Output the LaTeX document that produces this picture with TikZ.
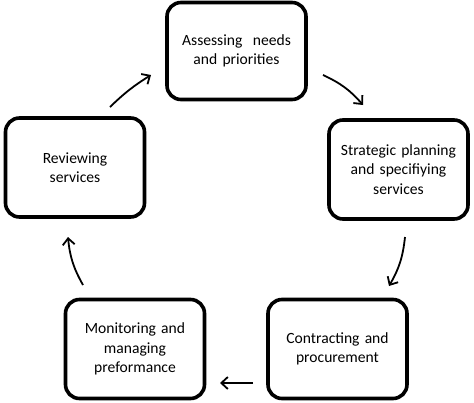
\documentclass[tikz,border=0pt]{standalone}
\usepackage{fontspec}
\setmainfont{Carlito}
\usetikzlibrary{arrows.meta}
\tikzset{
  stagebox/.style={draw=black, line width=3.6pt, rounded corners=14pt, fill=white,
    minimum width=139pt, minimum height=97pt, text width=135pt, align=center,
    inner sep=0pt, text=black, font=\fontsize{15.6}{19.5}\selectfont},
  cyclearrow/.style={line width=1.8pt, -{Straight Barb[length=6.5pt,width=12pt]}}
}
\begin{document}
\begin{tikzpicture}[x=1pt,y=-1pt]
\useasboundingbox (0,0) rectangle (474,402);
\node[stagebox] (assess) at (236.5,51) {Assessing\ \ needs\\and priorities};
\node[stagebox, minimum height=99pt] (plan) at (398.5,169.5) {Strategic planning\\and specifiying\\services};
\node[stagebox, minimum height=99pt] (contract) at (337.5,349) {Contracting and\\procurement};
\node[stagebox, minimum height=99pt] (monitor) at (135,349) {Monitoring and\\managing\\preformance};
\node[stagebox, minimum height=99pt] (review) at (75,167.5) {Reviewing\\services};
\coordinate (a1s) at (110,107); \coordinate (a1e) at (151,75);
\coordinate (a2s) at (323,75);  \coordinate (a2e) at (363,105);
\coordinate (a3s) at (405,237); \coordinate (a3e) at (389,286);
\coordinate (a4s) at (253,383); \coordinate (a4e) at (220,383);
\coordinate (a5s) at (83,285);  \coordinate (a5e) at (68,237);
\draw[cyclearrow] (a1s) to[bend left=6] (a1e);
\draw[cyclearrow] (a2s) to[bend left=12] (a2e);
\draw[cyclearrow] (a3s) to[bend left=12] (a3e);
\draw[cyclearrow] (a4s) -- (a4e);
\draw[cyclearrow] (a5s) to[bend left=12] (a5e);
\end{tikzpicture}
\end{document}
